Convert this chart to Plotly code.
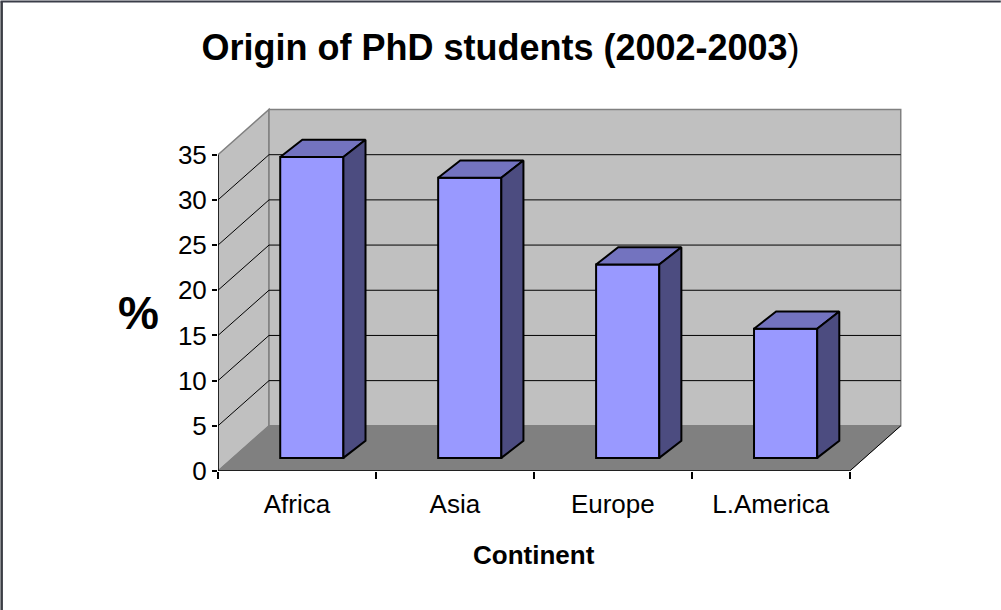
import plotly.graph_objects as go

# ---- data ----
categories = ["Africa", "Asia", "Europe", "L.America"]
percent = [33.3, 31.0, 21.4, 14.3]
y_ticks = [0, 5, 10, 15, 20, 25, 30, 35]

# ---- geometry / style ----
W, H = 1001, 610
ML, MR, MT, MB = 218.3, 95.8, 105.4, 139.3
N = len(categories)
XMAX = 4.35
YMAX = 40.5
YTOP = max(y_ticks)
DX, DY = 0.323, 5.0          # depth of the 3-D box, axis units
BAR_W = 0.4
BAR_OX, BAR_OY = 0.094, 1.45  # position of bar front face inside the box depth
BAR_DX, BAR_DY = 0.14, 1.9    # bar depth

FRONT, TOP, SIDE = "#9999FF", "#7373BF", "#4C4C80"
WALL, FLOOR, EDGE = "#C0C0C0", "#808080", "#808080"
FONT = "Liberation Sans, Arial, sans-serif"


def path(pts):
    return "M " + " L ".join(f"{x},{y}" for x, y in pts) + " Z"


shapes = []
# walls and floor
shapes.append(dict(type="path", xref="x", yref="y", layer="below",
                   path=path([(0, 0), (DX, DY), (DX, YTOP + DY), (0, YTOP)]),
                   fillcolor=WALL, line=dict(color=EDGE, width=1.5)))
shapes.append(dict(type="path", xref="x", yref="y", layer="below",
                   path=path([(DX, DY), (N + DX, DY), (N + DX, YTOP + DY), (DX, YTOP + DY)]),
                   fillcolor=WALL, line=dict(color=EDGE, width=1.5)))
shapes.append(dict(type="path", xref="x", yref="y", layer="below",
                   path=path([(0, 0), (N, 0), (N + DX, DY), (DX, DY)]),
                   fillcolor=FLOOR, line=dict(color=FLOOR, width=1)))
# gridlines
for v in y_ticks[1:-1]:
    shapes.append(dict(type="line", xref="x", yref="y", layer="below",
                       x0=0, y0=v, x1=DX, y1=v + DY, line=dict(color="black", width=1)))
    shapes.append(dict(type="line", xref="x", yref="y", layer="below",
                       x0=DX, y0=v + DY, x1=N + DX, y1=v + DY, line=dict(color="black", width=1)))
# axis lines
shapes.append(dict(type="line", xref="x", yref="y", layer="below",
                   x0=0, y0=0, x1=0, y1=YTOP, line=dict(color="black", width=1.5)))
shapes.append(dict(type="line", xref="x", yref="y", layer="below",
                   x0=0, y0=0, x1=N, y1=0, line=dict(color="black", width=1.5)))
shapes.append(dict(type="line", xref="x", yref="y", layer="below",
                   x0=N, y0=0, x1=N + DX, y1=DY, line=dict(color="black", width=1)))

# chart-area border (left and top)
PW = W - ML - MR
PH = H - MT - MB
px2paper_x = lambda px: (px - ML) / PW
px2paper_y = lambda py: (H - MB - py) / PH
shapes.append(dict(type="line", xref="paper", yref="paper",
                   x0=px2paper_x(2), y0=px2paper_y(2), x1=px2paper_x(2), y1=px2paper_y(H),
                   line=dict(color="#3a3d44", width=2.5)))
shapes.append(dict(type="line", xref="paper", yref="paper",
                   x0=px2paper_x(0.8), y0=px2paper_y(2), x1=px2paper_x(W), y1=px2paper_y(2),
                   line=dict(color="#3a3d48", width=2)))

fig = go.Figure()

centers = [i + 0.5 + BAR_OX for i in range(N)]
fig.add_trace(go.Bar(x=centers, y=percent, base=BAR_OY, width=BAR_W,
                     marker=dict(color=FRONT, line=dict(color="black", width=2)),
                     hoverinfo="skip", showlegend=False))

for cx, v in zip(centers, percent):
    x0, x1 = cx - BAR_W / 2, cx + BAR_W / 2
    t = BAR_OY + v
    fig.add_trace(go.Scatter(
        x=[x0, x1, x1 + BAR_DX, x0 + BAR_DX, x0],
        y=[t, t, t + BAR_DY, t + BAR_DY, t],
        fill="toself", fillcolor=TOP, mode="lines",
        line=dict(color="black", width=2), hoverinfo="skip", showlegend=False))
    fig.add_trace(go.Scatter(
        x=[x1, x1 + BAR_DX, x1 + BAR_DX, x1, x1],
        y=[BAR_OY, BAR_OY + BAR_DY, t + BAR_DY, t, BAR_OY],
        fill="toself", fillcolor=SIDE, mode="lines",
        line=dict(color="black", width=2), hoverinfo="skip", showlegend=False))

fig.update_layout(
    width=W, height=H,
    margin=dict(l=ML, r=MR, t=MT, b=MB, pad=0),
    paper_bgcolor="white", plot_bgcolor="rgba(0,0,0,0)",
    font=dict(family=FONT, color="black"),
    showlegend=False,
    shapes=shapes,
    title=dict(text="<b>Origin of PhD students (2002-2003</b>)",
               font=dict(family=FONT, size=36, color="black"),
               x=0.5, xref="container", xanchor="center",
               y=1 - 47.5 / H, yref="container", yanchor="middle"),
    xaxis=dict(range=[0, XMAX], showgrid=False, zeroline=False, showline=False,
               tickmode="array", tickvals=[i + 0.5 for i in range(N)], ticktext=categories,
               ticks="", tickfont=dict(family=FONT, size=26, color="black"),
               ticklabelstandoff=15,
               minor=dict(tickmode="linear", tick0=0, dtick=1, ticks="outside",
                          ticklen=7, tickcolor="black", tickwidth=1.5, showgrid=False)),
    yaxis=dict(range=[0, YMAX], showgrid=False, zeroline=False, showline=False,
               tickmode="array", tickvals=y_ticks, ticks="outside", ticklen=5,
               tickcolor="black", tickwidth=1.5,
               tickfont=dict(family=FONT, size=26, color="black")),
    annotations=[
        dict(text="<b>%</b>", x=0, y=17.5, xref="x", yref="y", xshift=-79.5,
             showarrow=False, xanchor="center", yanchor="middle",
             font=dict(family=FONT, size=46, color="black")),
        dict(text="<b>Continent</b>", x=N / 2, y=0, xref="x", yref="y", yshift=-84,
             showarrow=False, xanchor="center", yanchor="middle",
             font=dict(family=FONT, size=26, color="black")),
    ],
)

fig.write_html("out.html", config={"displayModeBar": False},
               post_script="document.body.style.margin='0';document.body.style.padding='0';")
